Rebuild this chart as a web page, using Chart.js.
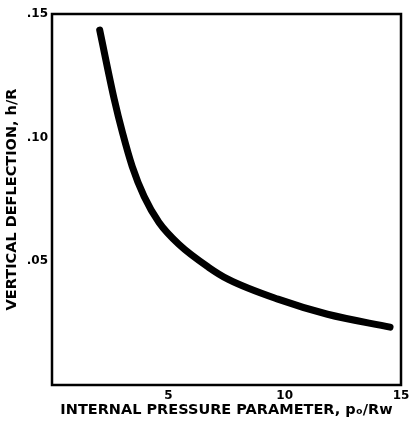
<!DOCTYPE html>
<html>
<head>
<meta charset="utf-8">
<script src="https://cdn.jsdelivr.net/npm/chart.js@4"></script>
<style>
  html, body { margin: 0; padding: 0; background: #fff; }
  #wrap { width: 409px; height: 430px; }
</style>
</head>
<body>
<div id="wrap"><canvas id="c" width="409" height="430"></canvas></div>
<script>
// Curve: internal pressure parameter vs vertical deflection
const pressure   = [2.05, 2.68, 3.03, 3.45, 3.96, 4.60, 5.45, 6.73, 7.58, 9.71, 11.84, 14.53];
const deflection = [0.1435, 0.1153, 0.1020, 0.0883, 0.0762, 0.0657, 0.0569, 0.0476, 0.0427, 0.0347, 0.0286, 0.0234];

const xTicks = [5, 10, 15];
const yTicks = [0.05, 0.10, 0.15];

const FONT = 'DejaVu Sans, sans-serif';

// Box around the plot area (the original has a closed frame)
const frame = {
  id: 'frame',
  afterDraw(chart) {
    const { ctx, chartArea: a } = chart;
    ctx.save();
    ctx.strokeStyle = '#000';
    ctx.lineWidth = 2.5;
    ctx.strokeRect(a.left, a.top, a.right - a.left, a.bottom - a.top);
    ctx.restore();
  },
};

new Chart(document.getElementById('c'), {
  type: 'line',
  data: {
    datasets: [{
      data: pressure.map((x, i) => ({ x, y: deflection[i] })),
      borderColor: '#000',
      borderWidth: 7,
      borderCapStyle: 'round',
      pointRadius: 0,
      cubicInterpolationMode: 'monotone',
      fill: false,
    }],
  },
  options: {
    responsive: false,
    animation: false,
    layout: { padding: { top: 14, right: 8, left: 0, bottom: 0 } },
    plugins: { legend: { display: false }, tooltip: { enabled: false } },
    scales: {
      x: {
        type: 'linear',
        min: 0,
        max: 15,
        afterBuildTicks: axis => { axis.ticks = xTicks.map(v => ({ value: v })); },
        afterFit: axis => {
          axis.height = 45;
          axis.paddingRight = 0;   // let the "15" label hang past the frame like the original
        },
        grid: { display: false, drawTicks: false },
        border: { display: false },
        ticks: {
          color: '#000',
          padding: 4,
          maxRotation: 0,
          font: { family: FONT, size: 12, weight: 'bold' },
        },
        title: {
          display: true,
          text: 'INTERNAL PRESSURE PARAMETER, pₒ/Rw',
          color: '#000',
          padding: { top: 2, bottom: 11 },
          font: { family: FONT, size: 14.5, weight: 'bold' },
        },
      },
      y: {
        type: 'linear',
        min: 0,
        max: 0.15,
        afterBuildTicks: axis => { axis.ticks = yTicks.map(v => ({ value: v })); },
        afterFit: axis => { axis.width = 52; },
        grid: { display: false, drawTicks: false },
        border: { display: false },
        ticks: {
          color: '#000',
          padding: 4,
          font: { family: FONT, size: 12, weight: 'bold' },
          callback: v => v.toFixed(2).replace(/^0/, ''),
        },
        title: {
          display: true,
          text: 'VERTICAL DEFLECTION, h/R',
          color: '#000',
          padding: { top: 4, bottom: 2 },
          font: { family: FONT, size: 14.5, weight: 'bold' },
        },
      },
    },
  },
  plugins: [frame],
});
</script>
</body>
</html>
